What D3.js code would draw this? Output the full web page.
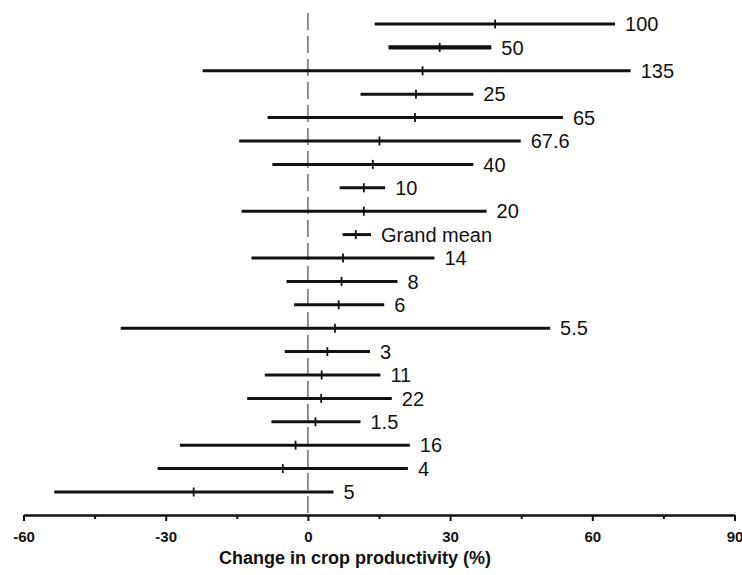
<!DOCTYPE html>
<html>
<head>
<meta charset="utf-8">
<script src="https://cdn.jsdelivr.net/npm/d3@7"></script>
<style>
  body { margin: 0; background: #fff; }
  svg { display: block; }
</style>
</head>
<body>
<svg id="chart" width="742" height="575"></svg>
<script>
const labels = ["100","50","135","25","65","67.6","40","10","20","Grand mean","14","8","6","5.5","3","11","22","1.5","16","4","5"];
const means  = [39.5, 27.8, 24.2, 22.8, 22.6, 15.1, 13.7, 11.8, 11.8, 10.1, 7.4, 7.1, 6.5, 5.7, 4.1, 2.9, 2.8, 1.6, -2.6, -5.3, -24.1];
const lower  = [14.1, 17.0, -22.2, 11.1, -8.5, -14.5, -7.5, 6.7, -14.0, 7.3, -11.9, -4.5, -2.9, -39.5, -4.9, -9.1, -12.8, -7.7, -27.0, -31.7, -53.5];
const upper  = [64.8, 38.7, 68.1, 34.9, 53.8, 44.9, 34.9, 16.3, 37.7, 13.3, 26.7, 18.9, 16.1, 51.1, 13.1, 15.3, 17.7, 11.1, 21.5, 21.1, 5.4];
const majorTicks = [-60, -30, 0, 30, 60, 90];
const majorTickLabels = ["-60", "-30", "0", "30", "60", "90"];
const minorTicks = [-45, -15, 15, 45, 75];
const xTitle = "Change in crop productivity (%)";

const rows = labels.map((l, i) => ({label: l, mean: means[i], lo: lower[i], hi: upper[i]}));

const svg = d3.select("#chart");
const font = "'Liberation Sans', Arial, sans-serif";
const axisY = 515;

const x = d3.scaleLinear().domain([-60, 90]).range([23.5, 734.5]);
const y = d3.scalePoint().domain(labels).range([24, 492]);

// zero reference line
svg.append("line")
  .attr("x1", x(0)).attr("x2", x(0))
  .attr("y1", 13).attr("y2", axisY)
  .attr("stroke", "#6e6e6e").attr("stroke-width", 1.5)
  .attr("stroke-dasharray", "17,6");

// confidence interval lines
const g = svg.append("g");
g.selectAll("line.ci").data(rows).join("line")
  .attr("class", "ci")
  .attr("x1", d => x(d.lo)).attr("x2", d => x(d.hi))
  .attr("y1", d => y(d.label)).attr("y2", d => y(d.label))
  .attr("stroke", "#111")
  .attr("stroke-width", d => d.label === "50" ? 4.2 : 3);

// mean ticks
g.selectAll("line.mean").data(rows).join("line")
  .attr("class", "mean")
  .attr("x1", d => x(d.mean)).attr("x2", d => x(d.mean))
  .attr("y1", d => y(d.label) - 4.5).attr("y2", d => y(d.label) + 4.5)
  .attr("stroke", "#111").attr("stroke-width", 1.8);

// labels
g.selectAll("text.lab").data(rows).join("text")
  .attr("class", "lab")
  .attr("x", d => x(d.hi) + 10)
  .attr("y", d => y(d.label))
  .attr("dy", "0.36em")
  .attr("font-family", font)
  .attr("font-size", 20)
  .attr("fill", "#111")
  .text(d => d.label);

// axis
const axis = d3.axisBottom(x)
  .tickValues(majorTicks)
  .tickSize(6)
  .tickSizeOuter(0)
  .tickPadding(10)
  .tickFormat((d, i) => majorTickLabels[i]);
const ag = svg.append("g").attr("transform", `translate(0,${axisY})`).call(axis);
ag.select(".domain").attr("stroke", "#111").attr("stroke-width", 2.5);
ag.selectAll(".tick line").attr("stroke", "#111").attr("stroke-width", 2);
ag.selectAll(".tick text")
  .attr("font-family", font)
  .attr("font-size", 15)
  .attr("font-weight", "bold")
  .attr("fill", "#111");

const minorAxis = d3.axisBottom(x)
  .tickValues(minorTicks)
  .tickSize(4)
  .tickSizeOuter(0)
  .tickFormat("");
const mg = svg.append("g").attr("transform", `translate(0,${axisY})`).call(minorAxis);
mg.select(".domain").remove();
mg.selectAll(".tick line").attr("stroke", "#111").attr("stroke-width", 2);

// axis title
svg.append("text")
  .attr("x", 355).attr("y", 564)
  .attr("text-anchor", "middle")
  .attr("font-family", font)
  .attr("font-size", 18)
  .attr("font-weight", "bold")
  .attr("fill", "#111")
  .text(xTitle);
</script>
</body>
</html>
